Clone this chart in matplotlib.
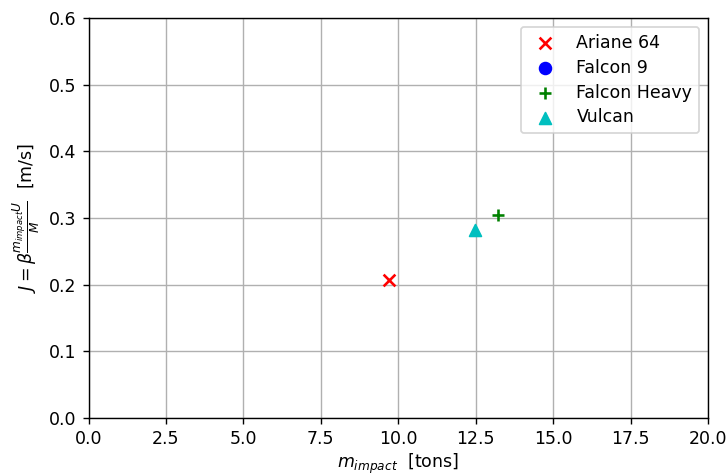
import numpy as np
import matplotlib
matplotlib.use("Agg")
import matplotlib.pyplot as plt

# Impact mass [tons] and momentum change J [m/s] per launcher
launchers = ["Ariane 64", "Falcon 9", "Falcon Heavy", "Vulcan"]
m_impact = [9.71, np.nan, 13.23, 12.48]
J_values = [0.207, np.nan, 0.304, 0.282]
markers = ["x", "o", "+", "^"]
colors = ["r", "b", "g", "c"]

W, H, DPI = 728, 475, 125
fig = plt.figure(figsize=(W / DPI, H / DPI), dpi=DPI)
ax = fig.add_axes([88.5 / W, 57 / H, 619.5 / W, 400 / H])

for name, m, j, mk, c in zip(launchers, m_impact, J_values, markers, colors):
    ax.scatter([m], [j], marker=mk, color=c, s=46, label=name, zorder=3)

ax.set_xlim(0, 20)
ax.set_ylim(0, 0.6)
ax.set_xticks(np.arange(0, 20.1, 2.5))
ax.grid(True)
ax.set_xlabel(r"$m_{impact}$  [tons]", labelpad=2)
ax.set_ylabel(r"$J = \beta\frac{m_{impact}U}{M}$  [m/s]")
ax.legend(loc="upper right", labelspacing=0.4)

fig.savefig("out.png", dpi=DPI)
